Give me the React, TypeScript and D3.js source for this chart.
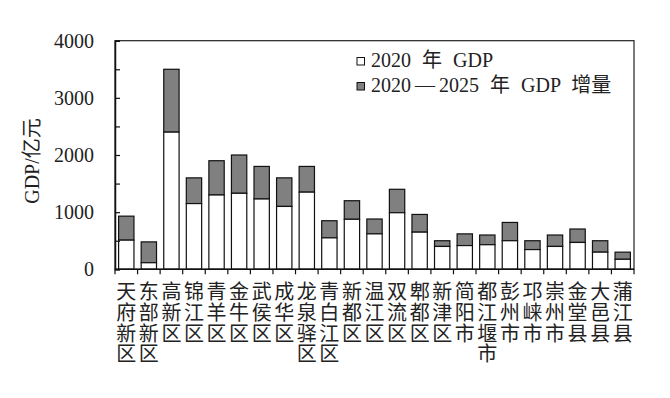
import React, { useEffect, useRef } from "react";
import * as d3 from "d3";

const districts = [
  "天府新区", "东部新区", "高新区", "锦江区", "青羊区", "金牛区", "武侯区", "成华区",
  "龙泉驿区", "青白江区", "新都区", "温江区", "双流区", "郫都区", "新津区", "简阳市",
  "都江堰市", "彭州市", "邛崃市", "崇州市", "金堂县", "大邑县", "蒲江县",
];
const gdp2020 = [510, 115, 2400, 1150, 1300, 1330, 1230, 1100, 1350, 550, 875, 620, 990, 650, 400, 415, 430, 500, 345, 400, 470, 300, 175];
const gdpTotal2025 = [930, 480, 3500, 1600, 1900, 2000, 1800, 1600, 1800, 850, 1200, 880, 1400, 960, 500, 620, 600, 820, 500, 600, 705, 500, 300];
const yTicks = [0, 1000, 2000, 3000, 4000];
// legend labels split in parts so the dash can get a little air
const legendLabels = [["2020 年 GDP"], ["2020", "—", "2025 年 GDP 增量"]];

const FONT = "'Liberation Serif', 'Times New Roman', 'Noto Sans CJK SC', serif";

export default function App() {
  const ref = useRef<SVGSVGElement>(null);

  useEffect(() => {
    const width = 670;
    const height = 398;
    const margin = { top: 40.7, right: 36, bottom: 128.7, left: 115 };
    const innerWidth = width - margin.left - margin.right;
    const innerHeight = height - margin.top - margin.bottom;

    const svg = d3.select(ref.current).attr("width", width).attr("height", height);
    svg.selectAll("*").remove();
    const g = svg.append("g").attr("transform", `translate(${margin.left}, ${margin.top})`);

    const xScale = d3.scaleBand().domain(districts).range([0, innerWidth]).paddingInner(0.32).paddingOuter(0.16);
    const yScale = d3.scaleLinear().domain([0, 4000]).range([innerHeight, 0]);

    const data = districts.map((d, i) => ({ name: d, base: gdp2020[i], total: gdpTotal2025[i] }));

    // increment part (grey) on top
    g.selectAll(".inc").data(data).join("rect").attr("class", "inc")
      .attr("x", d => xScale(d.name)!)
      .attr("width", xScale.bandwidth())
      .attr("y", d => yScale(d.total))
      .attr("height", d => yScale(d.base) - yScale(d.total))
      .attr("fill", "#808080").attr("stroke", "#111").attr("stroke-width", 1.2);

    // 2020 part (white)
    g.selectAll(".base").data(data).join("rect").attr("class", "base")
      .attr("x", d => xScale(d.name)!)
      .attr("width", xScale.bandwidth())
      .attr("y", d => yScale(d.base))
      .attr("height", d => innerHeight - yScale(d.base))
      .attr("fill", "#fff").attr("stroke", "#111").attr("stroke-width", 1.2);

    // frame
    g.append("rect").attr("x", 0).attr("y", 0).attr("width", innerWidth).attr("height", innerHeight)
      .attr("fill", "none").attr("stroke", "#222").attr("stroke-width", 1.2);

    // y axis: inward ticks every 500, labels every 1000
    const yAxis = d3.axisRight(yScale).tickValues(d3.range(0, 4001, 500)).tickSize(5).tickFormat(() => "");
    g.append("g").attr("class", "y-axis").call(yAxis)
      .call(s => s.select(".domain").attr("stroke", "#111").attr("stroke-width", 1.5))
      .call(s => s.selectAll(".tick line").attr("stroke", "#111").attr("stroke-width", 1.2));

    g.selectAll(".ylab").data(yTicks).join("text").attr("class", "ylab")
      .attr("x", -21).attr("y", d => yScale(d)).attr("dy", "0.35em")
      .attr("text-anchor", "end").attr("font-family", FONT).attr("font-size", 20).attr("fill", "#222")
      .text(d => d);

    // x axis ticks between categories
    const step = xScale.step();
    const xTickPos = d3.range(0, districts.length + 1).map(i => i * step);
    const xg = g.append("g").attr("transform", `translate(0, ${innerHeight})`);
    xg.append("line").attr("x1", 0).attr("x2", innerWidth).attr("stroke", "#111").attr("stroke-width", 1.5);
    xg.selectAll("line.tk").data(xTickPos).join("line").attr("class", "tk")
      .attr("x1", d => d).attr("x2", d => d).attr("y1", 0).attr("y2", 5)
      .attr("stroke", "#111").attr("stroke-width", 1.2);

    // vertical category labels, one character per row
    const labels = g.selectAll(".xlab").data(districts).join("text").attr("class", "xlab")
      .attr("font-family", FONT).attr("font-size", 20).attr("fill", "#222").attr("text-anchor", "middle");
    labels.each(function (d) {
      const t = d3.select(this);
      const cx = xScale(d)! + xScale.bandwidth() / 2;
      Array.from(d).forEach((ch, k) => {
        t.append("tspan").attr("x", cx).attr("y", innerHeight + 30 + k * 20.7).text(ch);
      });
    });

    // y label
    svg.append("text").attr("transform", "translate(39, 161) rotate(-90)")
      .attr("text-anchor", "middle").attr("font-family", FONT).attr("font-size", 20).attr("fill", "#222")
      .text("GDP/亿元");

    // legend
    const legend = svg.append("g").attr("transform", "translate(357, 57.5)");
    const colors = ["#fff", "#808080"];
    legendLabels.forEach((parts, i) => {
      legend.append("rect").attr("x", 0).attr("y", i * 25).attr("width", 7.5).attr("height", 7.5)
        .attr("fill", colors[i]).attr("stroke", "#111").attr("stroke-width", 1);
      const txt = legend.append("text").attr("x", 14).attr("y", i * 25.5 + 9)
        .attr("font-family", FONT).attr("font-size", 20).attr("fill", "#222")
        .style("word-spacing", "6px");
      parts.forEach((p, k) => {
        txt.append("tspan").attr("dx", k === 0 ? 0 : 4).text(p);
      });
    });
  }, []);

  return (
    <div style={{ position: "absolute", left: 0, top: 0 }}>
      <svg ref={ref} style={{ display: "block", background: "#fff" }}></svg>
    </div>
  );
}
